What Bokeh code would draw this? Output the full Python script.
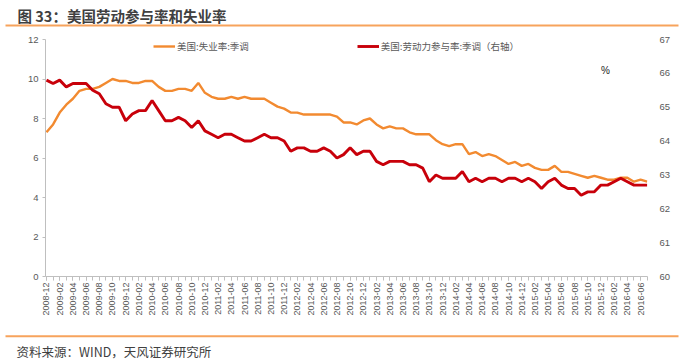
import math
from bokeh.plotting import figure
from bokeh.layouts import column
from bokeh.models import (Range1d, LinearAxis, FixedTicker, Label, Legend, LegendItem)
from bokeh.core.properties import value
from bokeh.embed import file_html
from bokeh.resources import INLINE

months = [
    "2008-12",
    "2009-01", "2009-02", "2009-03", "2009-04", "2009-05", "2009-06",
    "2009-07", "2009-08", "2009-09", "2009-10", "2009-11", "2009-12",
    "2010-01", "2010-02", "2010-03", "2010-04", "2010-05", "2010-06",
    "2010-07", "2010-08", "2010-09", "2010-10", "2010-11", "2010-12",
    "2011-01", "2011-02", "2011-03", "2011-04", "2011-05", "2011-06",
    "2011-07", "2011-08", "2011-09", "2011-10", "2011-11", "2011-12",
    "2012-01", "2012-02", "2012-03", "2012-04", "2012-05", "2012-06",
    "2012-07", "2012-08", "2012-09", "2012-10", "2012-11", "2012-12",
    "2013-01", "2013-02", "2013-03", "2013-04", "2013-05", "2013-06",
    "2013-07", "2013-08", "2013-09", "2013-10", "2013-11", "2013-12",
    "2014-01", "2014-02", "2014-03", "2014-04", "2014-05", "2014-06",
    "2014-07", "2014-08", "2014-09", "2014-10", "2014-11", "2014-12",
    "2015-01", "2015-02", "2015-03", "2015-04", "2015-05", "2015-06",
    "2015-07", "2015-08", "2015-09", "2015-10", "2015-11", "2015-12",
    "2016-01", "2016-02", "2016-03", "2016-04", "2016-05", "2016-06",
    "2016-07",
]

unemployment = [
    7.3,
    7.7, 8.3, 8.7, 9.0, 9.4, 9.5, 9.5, 9.6, 9.8, 10.0, 9.9, 9.9,
    9.8, 9.8, 9.9, 9.9, 9.6, 9.4, 9.4, 9.5, 9.5, 9.4, 9.8, 9.3,
    9.1, 9.0, 9.0, 9.1, 9.0, 9.1, 9.0, 9.0, 9.0, 8.8, 8.6, 8.5,
    8.3, 8.3, 8.2, 8.2, 8.2, 8.2, 8.2, 8.1, 7.8, 7.8, 7.7, 7.9,
    8.0, 7.7, 7.5, 7.6, 7.5, 7.5, 7.3, 7.2, 7.2, 7.2, 6.9, 6.7,
    6.6, 6.7, 6.7, 6.2, 6.3, 6.1, 6.2, 6.1, 5.9, 5.7, 5.8, 5.6,
    5.7, 5.5, 5.4, 5.4, 5.6, 5.3, 5.3, 5.2, 5.1, 5.0, 5.1, 5.0,
    4.9, 4.9, 5.0, 5.0, 4.8, 4.9, 4.8,
]

participation = [
    65.8,
    65.7, 65.8, 65.6, 65.7, 65.7, 65.7, 65.5, 65.4, 65.1, 65.0, 65.0, 64.6,
    64.8, 64.9, 64.9, 65.2, 64.9, 64.6, 64.6, 64.7, 64.6, 64.4, 64.6, 64.3,
    64.2, 64.1, 64.2, 64.2, 64.1, 64.0, 64.0, 64.1, 64.2, 64.1, 64.1, 64.0,
    63.7, 63.8, 63.8, 63.7, 63.7, 63.8, 63.7, 63.5, 63.6, 63.8, 63.6, 63.7,
    63.7, 63.4, 63.3, 63.4, 63.4, 63.4, 63.3, 63.3, 63.2, 62.8, 63.0, 62.9,
    62.9, 62.9, 63.1, 62.8, 62.9, 62.8, 62.9, 62.9, 62.8, 62.9, 62.9, 62.8,
    62.9, 62.8, 62.6, 62.8, 62.9, 62.7, 62.6, 62.6, 62.4, 62.5, 62.5, 62.7,
    62.7, 62.8, 62.9, 62.8, 62.7, 62.7, 62.7,
]

left_ticks = [0, 2, 4, 6, 8, 10, 12]
right_ticks = [60, 61, 62, 63, 64, 65, 66, 67]

title_text = "图 33：美国劳动参与率和失业率"
source_text = "资料来源：WIND，天风证券研究所"
series_names = ["美国:失业率:季调", "美国:劳动力参与率:季调（右轴）"]

CJK = "Noto Sans CJK SC"
NUM = "Liberation Sans"
GRAY = "#595959"
AXIS = "#BFBFBF"
RULE = "#F7A35C"


def strip(h):
    f = figure(width=700, height=h, x_range=Range1d(0, 700), y_range=Range1d(h, 0),
               x_axis_type=None, y_axis_type=None, output_backend="svg",
               toolbar_location=None, min_border=0, frame_align=False)
    f.outline_line_color = None
    f.xgrid.visible = False
    f.ygrid.visible = False
    return f


# header
head = strip(30)
head.quad(left=5, right=678, top=24, bottom=26, fill_color=RULE, line_color=None)
head.text(x=[17], y=[14.5], text=[title_text], text_baseline="middle",
          text_font=value(CJK), text_font_size="14.5px", text_font_style="bold",
          text_color="#404040")

# main chart
idx = list(range(len(months)))

p = figure(width=700, height=300, x_range=Range1d(-0.15, 91.05), y_range=Range1d(0, 12),
           output_backend="svg", toolbar_location=None, frame_align=False,
           min_border_left=45, min_border_right=53, min_border_top=9, min_border_bottom=54)
p.outline_line_color = None
p.xgrid.visible = False
p.ygrid.visible = False

p.extra_y_ranges = {"right": Range1d(60, 67)}

r1 = p.line(idx, unemployment, line_color="#F28A30", line_width=2.4)
r2 = p.line(idx, participation, line_color="#C8000A", line_width=2.9, y_range_name="right")

ya = p.yaxis[0]
ya.ticker = FixedTicker(ticks=left_ticks)
ya.axis_line_color = AXIS
ya.major_tick_line_color = AXIS
ya.minor_tick_line_color = None
ya.major_tick_out = 3
ya.major_tick_in = 0
ya.major_label_standoff = 4
ya.major_label_text_font = NUM
ya.major_label_text_font_size = "9.5px"
ya.major_label_text_color = GRAY

ra = LinearAxis(y_range_name="right", ticker=FixedTicker(ticks=right_ticks))
ra.axis_line_color = None
ra.major_tick_line_color = None
ra.minor_tick_line_color = None
ra.major_label_standoff = 6
ra.major_label_text_font = NUM
ra.major_label_text_font_size = "9.5px"
ra.major_label_text_color = GRAY
p.add_layout(ra, "right")

xa = p.xaxis[0]
even = [i for i in idx if i % 2 == 0]
xa.ticker = FixedTicker(ticks=even, minor_ticks=idx)
xa.major_label_overrides = {i: months[i] for i in even}
xa.major_label_orientation = math.pi / 2
xa.axis_line_color = AXIS
xa.major_tick_line_color = AXIS
xa.minor_tick_line_color = AXIS
xa.major_tick_out = 4
xa.major_tick_in = 0
xa.minor_tick_out = 4
xa.minor_tick_in = 0
xa.major_label_standoff = 2
xa.major_label_text_font = NUM
xa.major_label_text_font_size = "9px"
xa.major_label_text_color = GRAY

legend = Legend(items=[LegendItem(label=series_names[0], renderers=[r1]),
                       LegendItem(label=series_names[1], renderers=[r2])],
                orientation="horizontal", location=(108, 222), spacing=108,
                glyph_width=22, glyph_height=16, label_height=16, label_standoff=2,
                padding=0, margin=0, border_line_color=None, background_fill_alpha=0,
                label_text_font=CJK, label_text_font_size="9.5px", label_text_color=GRAY)
p.add_layout(legend, "center")

p.add_layout(Label(x=560, y=206, x_units="screen", y_units="screen", text="%",
                   text_font=NUM, text_font_size="10px", text_color="#222222",
                   text_align="center", text_baseline="middle"))

# footer
foot = strip(32)
foot.quad(left=5, right=678, top=4.7, bottom=6.7, fill_color=RULE, line_color=None)
foot.text(x=[16], y=[21], text=[source_text], text_baseline="middle",
          text_font=value(CJK), text_font_size="12.5px", text_color="#404040")

layout = column(head, p, foot, spacing=0)
open("out.html", "w").write(file_html(layout, INLINE))
